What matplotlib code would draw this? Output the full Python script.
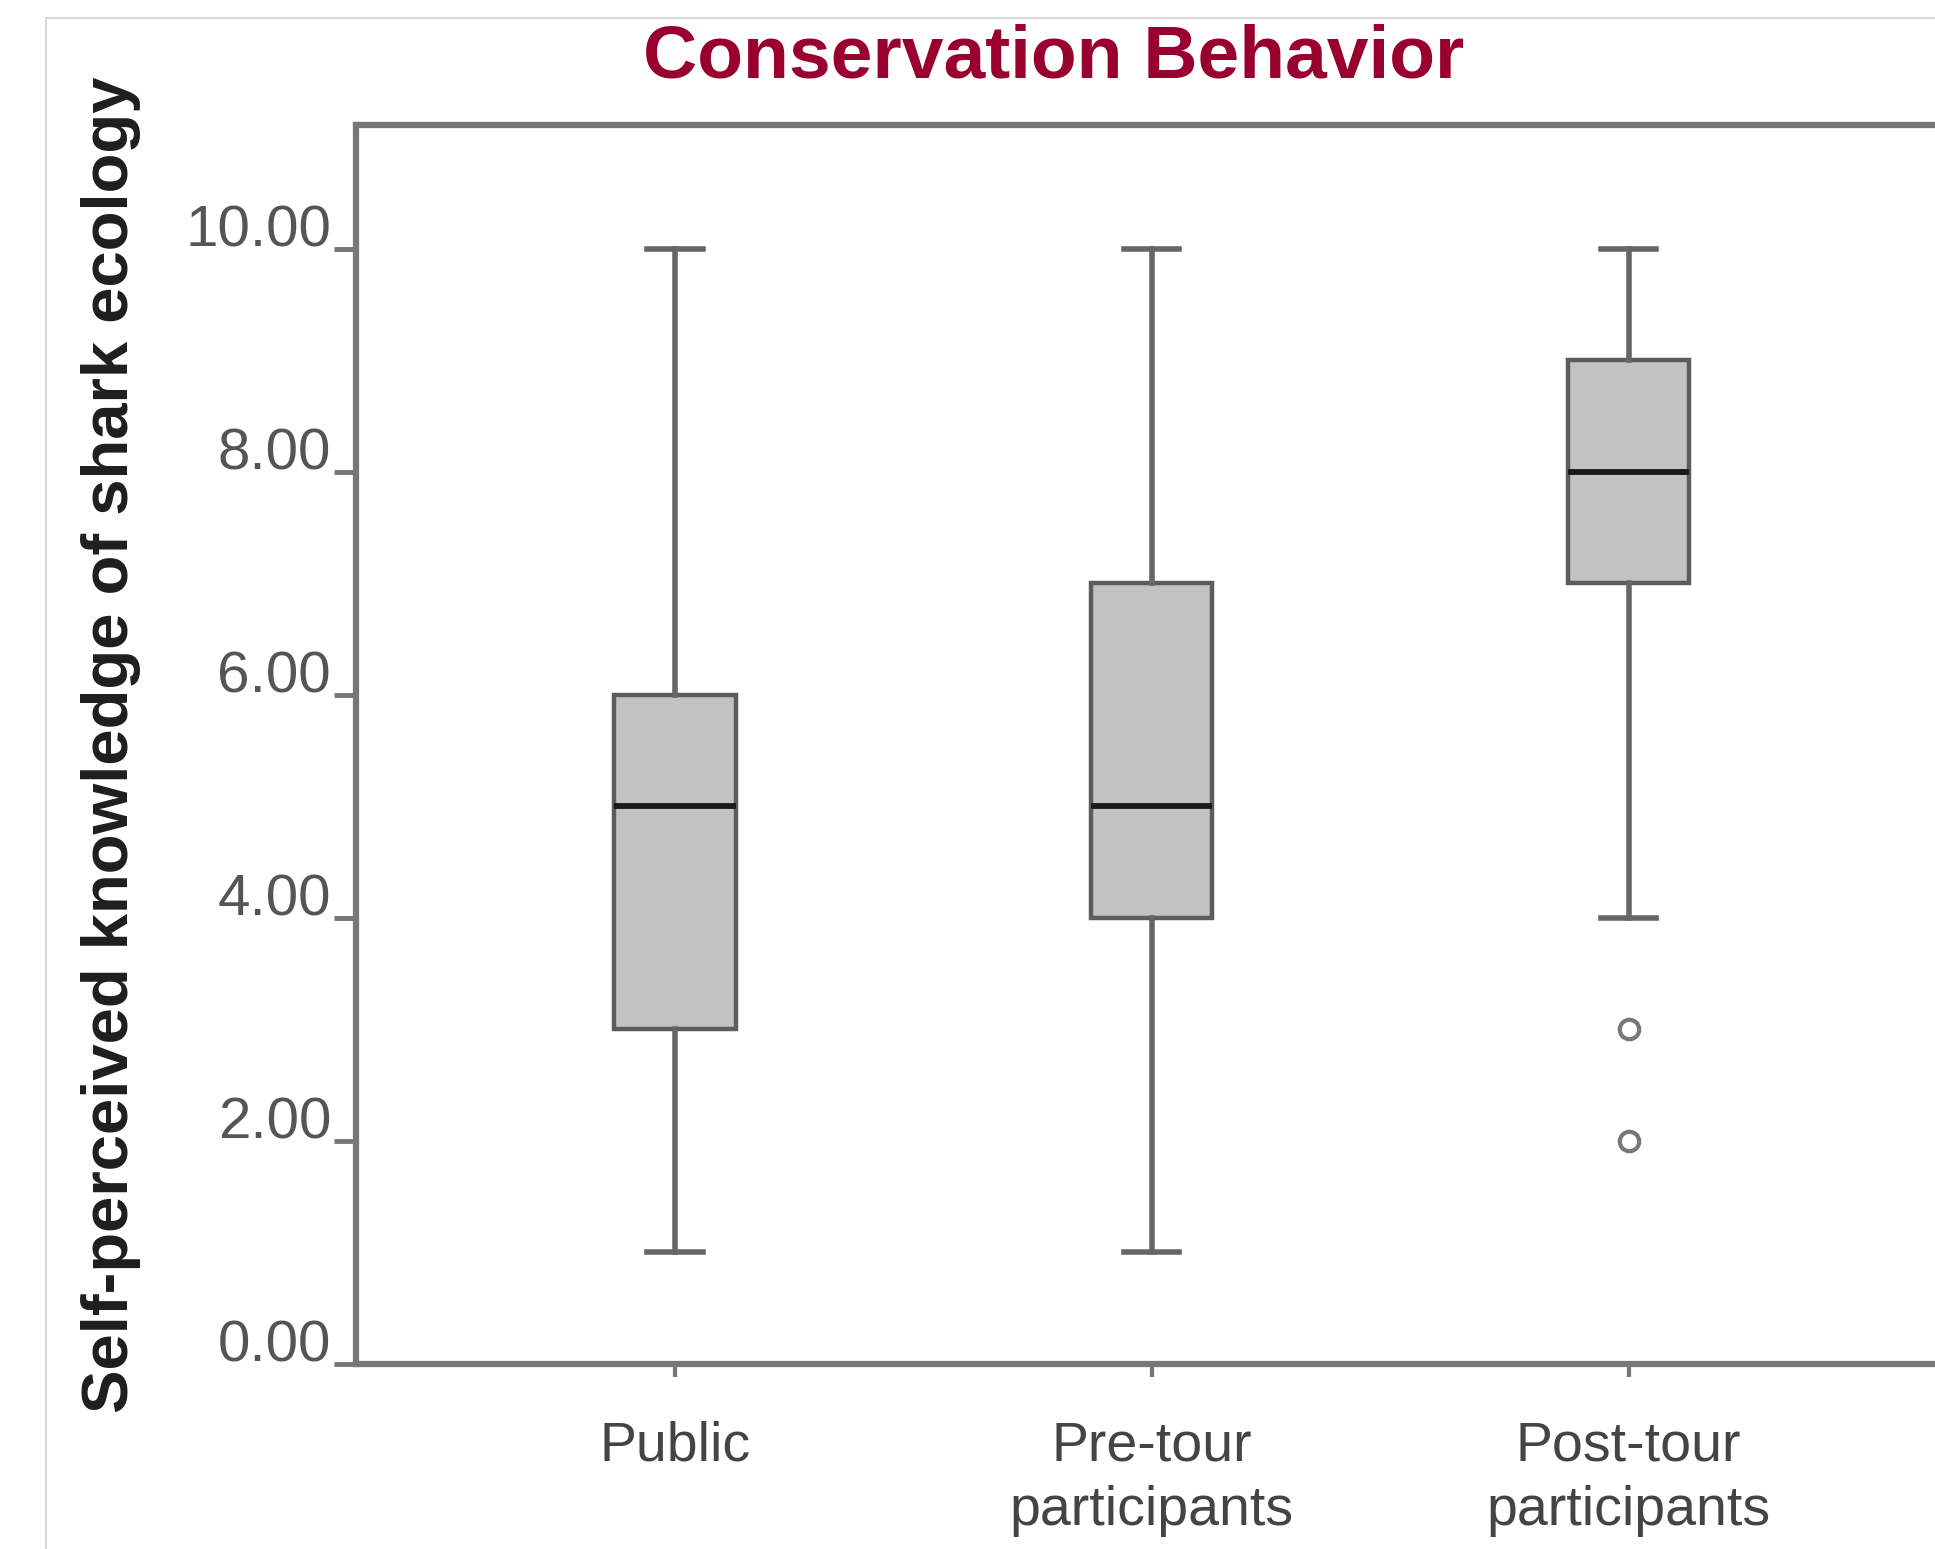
import matplotlib
matplotlib.use("Agg")
import matplotlib.pyplot as plt
from matplotlib.lines import Line2D
from matplotlib.transforms import ScaledTranslation

plt.rcParams["font.family"] = ["Liberation Sans", "DejaVu Sans"]

# =============================================================
# DATOS
# =============================================================
groups = ["Public", "Pre-tour\nparticipants", "Post-tour\nparticipants"]
whisker_low = [1, 1, 4]
q1 = [3, 4, 7]
medians = [5, 5, 8]
q3 = [6, 7, 9]
whisker_high = [10, 10, 10]
outliers = [[], [], [3, 2]]

y_ticks = [0, 2, 4, 6, 8, 10]
y_tick_labels = ["0.00", "2.00", "4.00", "6.00", "8.00", "10.00"]

title = "Conservation Behavior"
y_label = "Self-perceived knowledge of shark ecology"

# =============================================================
# FIGURA
# =============================================================
W, H = 1935, 1549
fig = plt.figure(figsize=(W / 100, H / 100), dpi=100)

# marco de la diapositiva
fig.add_artist(Line2D([46 / W, 46 / W], [0, 1 - 18 / H], color="#cfcfcf", lw=1.2))
fig.add_artist(Line2D([46 / W, 1], [1 - 18 / H, 1 - 18 / H], color="#cfcfcf", lw=1.2))

fig.text(1054 / W, 1 - 77 / H, title, ha="center", va="baseline",
         fontsize=54, fontweight="bold", color="#990030")

ax_left, ax_bottom = 356 / W, 1 - 1364 / H
ax = fig.add_axes([ax_left, ax_bottom, (2010 - 356) / W, (1364 - 125) / H])

stats = []
for i in range(len(groups)):
    stats.append({
        "whislo": whisker_low[i], "q1": q1[i], "med": medians[i],
        "q3": q3[i], "whishi": whisker_high[i], "fliers": outliers[i],
    })

positions = [1, 2, 3]
ax.bxp(stats, positions=positions, widths=0.254, capwidths=0.116,
       patch_artist=True, showfliers=True,
       boxprops=dict(facecolor="#c2c2c2", edgecolor="#5c5c5c", linewidth=3.2),
       medianprops=dict(color="#1a1a1a", linewidth=4.2),
       whiskerprops=dict(color="#666666", linewidth=4),
       capprops=dict(color="#666666", linewidth=4),
       flierprops=dict(marker="o", markersize=14, markerfacecolor="white",
                       markeredgecolor="#777777", markeredgewidth=3))

ax.set_xlim(0.331, 3.8)
ax.set_ylim(0, 11.11)

for side in ["left", "top", "bottom", "right"]:
    ax.spines[side].set_color("#777777")
    ax.spines[side].set_linewidth(4.5)

ax.set_xticks(positions)
ax.set_xticklabels(groups, fontsize=40, color="#444444", linespacing=1.3)
ax.tick_params(axis="x", length=9, width=3, color="#777777", pad=32)

ax.set_yticks(y_ticks)
ax.set_yticklabels(y_tick_labels, fontsize=42, color="#555555")
ax.tick_params(axis="y", length=16, width=3.5, color="#777777", pad=2)

# etiquetas del eje y un poco por encima de cada tick
offset = ScaledTranslation(0, 0.23, fig.dpi_scale_trans)
for label in ax.get_yticklabels():
    label.set_transform(label.get_transform() + offset)

fig.text(111 / W, 1 - 745 / H, y_label, rotation=90, ha="center", va="center",
         fontsize=47, fontweight="bold", color="#1e1e1e")

fig.savefig("out.png", dpi=100)
